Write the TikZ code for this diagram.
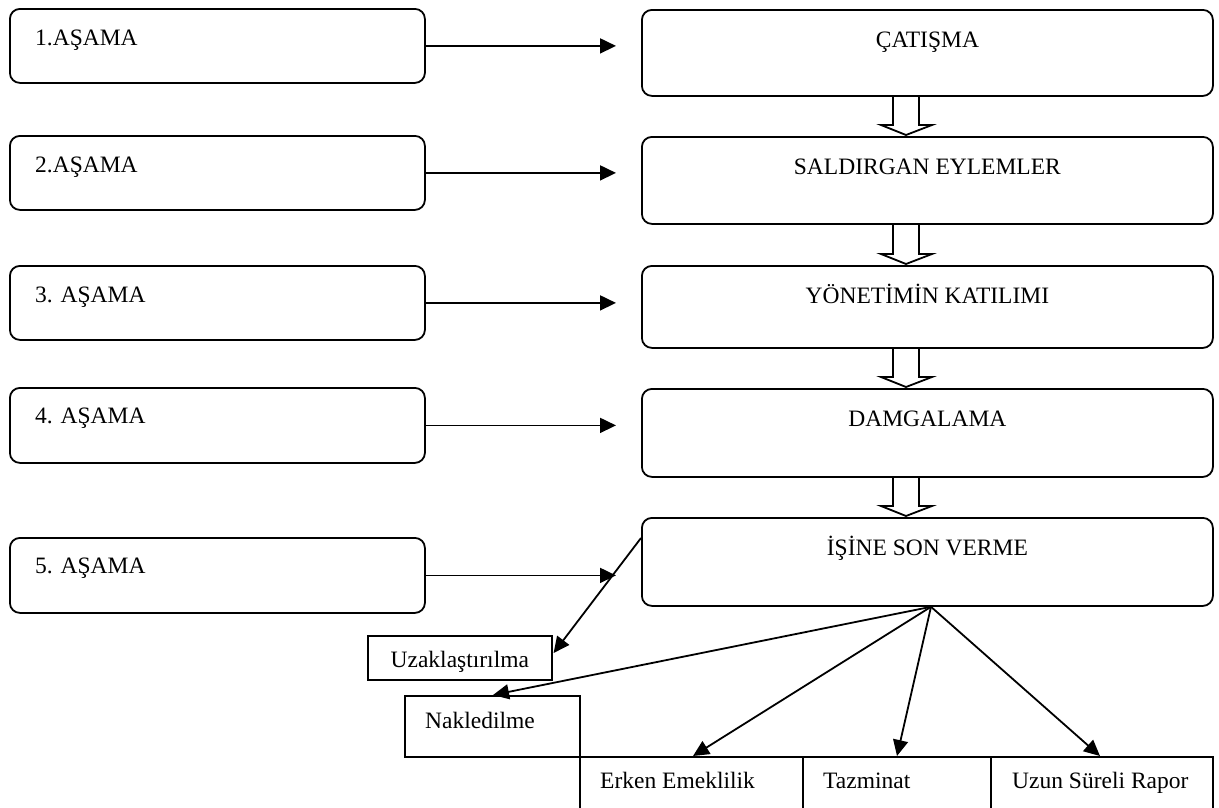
\documentclass[tikz,border=0pt]{standalone}
\usepackage{fontspec}
\setmainfont{Liberation Serif}
\usetikzlibrary{arrows.meta,calc}
\begin{document}
\begin{tikzpicture}[x=1pt,y=-1pt,
  every node/.style={font=\fontsize{23.5}{28}\selectfont},
  lbox/.style={draw,line width=1.8pt,rounded corners=10pt,minimum width=415pt,minimum height=74pt,anchor=north west,inner sep=0pt},
  rbox/.style={draw,line width=1.8pt,rounded corners=10pt,minimum width=571pt,anchor=north west,inner sep=0pt},
  sbox/.style={draw,line width=1.6pt,anchor=north west,inner sep=0pt},
  txt/.style={anchor=base,inner sep=0pt},
  ltxt/.style={anchor=base west,inner sep=0pt},
  arr/.style={line width=1.8pt,-{Triangle[length=16pt,width=15pt]}},
  hollow/.style={line width=1.8pt,line join=miter}]
\useasboundingbox (0,0) rectangle (1219,807);
\clip (0,0) rectangle (1219,807);

% left boxes
\node[lbox] (l1) at (9,8) {};
\node[lbox] (l2) at (9,135) {};
\node[lbox] (l3) at (9,265) {};
\node[lbox,minimum height=75pt] (l4) at (9,387) {};
\node[lbox,minimum height=75pt] (l5) at (9,537) {};
\node[ltxt] (t1) at ($(l1.north west)+(26,37)$) {1.AŞAMA};
\node[ltxt] (t2) at ($(l2.north west)+(26,37)$) {2.AŞAMA};
\node[ltxt] (t3) at ($(l3.north west)+(26,37)$) {3. AŞAMA};
\node[ltxt] (t4) at ($(l4.north west)+(26,36)$) {4. AŞAMA};
\node[ltxt] (t5) at ($(l5.north west)+(26,36)$) {5. AŞAMA};

% right boxes
\node[rbox,minimum height=86pt] (r1) at (641,9) {};
\node[rbox,minimum height=87pt] (r2) at (641,136) {};
\node[rbox,minimum height=82pt] (r3) at (641,265) {};
\node[rbox,minimum height=88pt] (r4) at (641,388) {};
\node[rbox,minimum height=88pt] (r5) at (641,517) {};
\node[txt] (rt1) at ($(r1.north)+(0,38)$) {ÇATIŞMA};
\node[txt] (rt2) at ($(r2.north)+(0,38)$) {SALDIRGAN EYLEMLER};
\node[txt] (rt3) at ($(r3.north)+(0,38)$) {YÖNETİMİN KATILIMI};
\node[txt] (rt4) at ($(r4.north)+(0,38)$) {DAMGALAMA};
\node[txt] (rt5) at ($(r5.north)+(0,38)$) {İŞİNE SON VERME};

% horizontal arrows
\coordinate (tipx) at (616,0);
\foreach \i in {1,...,5}{
  \draw[arr] (l\i.east) -- (l\i.east -| tipx);
}

% hollow arrows between right boxes
\foreach \a/\b in {r1/r2,r2/r3,r3/r4,r4/r5}{
  \draw[hollow] ($(\a.south west)+(252,0)$) -- ($(\b.north west)+(252,-11)$)
    -- ($(\b.north west)+(240,-11)$) -- ($(\b.north west)+(265,-1)$)
    -- ($(\b.north west)+(291,-11)$) -- ($(\b.north west)+(278,-11)$)
    -- ($(\a.south west)+(278,0)$);
}

% bottom boxes
\node[sbox,minimum width=184pt,minimum height=44pt] (uz) at (367,635) {};
\node[txt] (uzt) at ($(uz.north)+(0,32)$) {Uzaklaştırılma};
\node[sbox,minimum width=175pt,minimum height=61pt] (nk) at (404,695) {};
\node[ltxt] (nkt) at ($(nk.north west)+(21,33)$) {Nakledilme};
\node[sbox,minimum width=223pt,minimum height=90pt] (ee) at (579,756) {};
\node[sbox,minimum width=188pt,minimum height=90pt] (tz) at (802,756) {};
\node[sbox,minimum width=222pt,minimum height=90pt] (ur) at (990,756) {};
\node[ltxt] (eet) at ($(ee.north west)+(21,32)$) {Erken Emeklilik};
\node[ltxt] (tzt) at ($(tz.north west)+(21,32)$) {Tazminat};
\node[ltxt] (urt) at ($(ur.north west)+(22,32)$) {Uzun Süreli Rapor};

% fan arrows
\coordinate (fan) at ($(r5.south west)+(290,0)$);
\coordinate (sv) at ($(r5.north west)+(0,21)$);
\draw[arr] (sv) -- ($(uz.north east)+(1,18)$);
\draw[arr] (fan) -- ($(nk.north west)+(89,0)$);
\draw[arr] (fan) -- ($(ee.north west)+(114,0)$);
\draw[arr] (fan) -- ($(tz.north west)+(95,0)$);
\draw[arr] (fan) -- ($(ur.north west)+(110,0)$);
\end{tikzpicture}
\end{document}
